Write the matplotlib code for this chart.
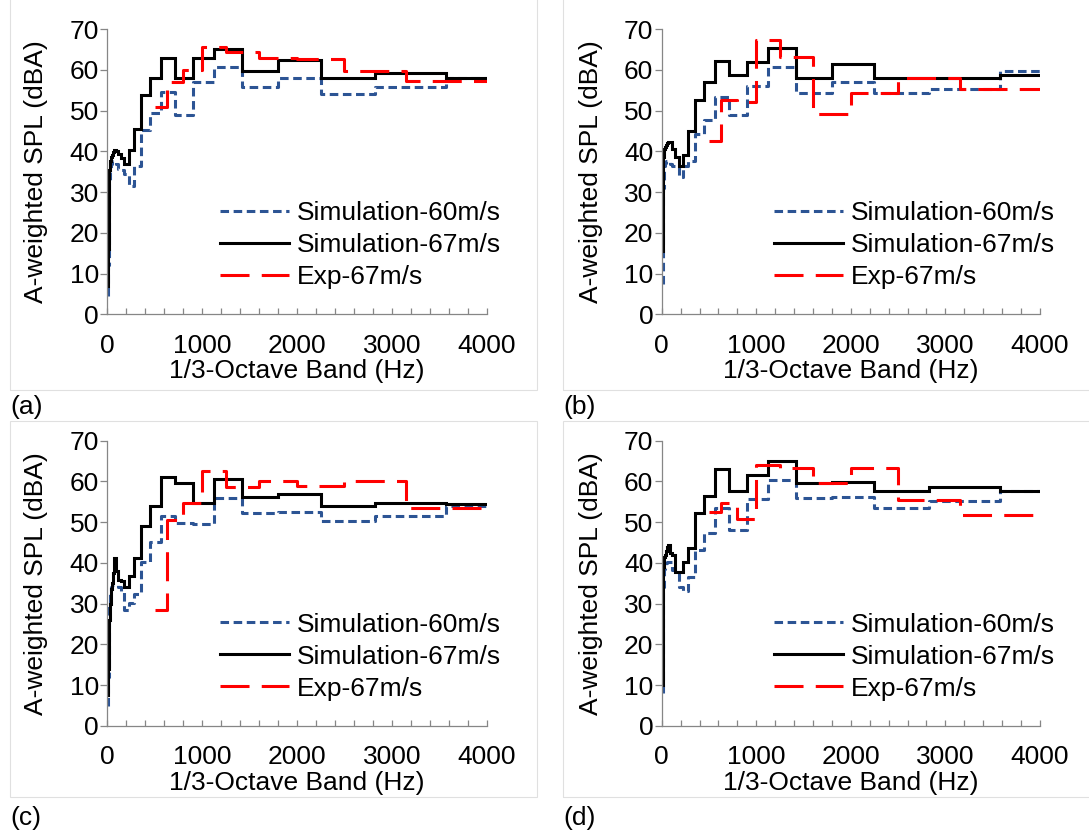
import matplotlib
matplotlib.use("Agg")
from matplotlib import pyplot as plt, ticker
from matplotlib.patches import Rectangle

plt.rcParams["font.family"] = ["Liberation Sans", "DejaVu Sans"]

# 1/3-octave band centre frequencies (Hz)
bands = [10, 12.5, 16, 20, 25, 31.5, 40, 50, 63, 80, 100, 125, 160, 200, 250,
         315, 400, 500, 630, 800, 1000, 1250, 1600, 2000, 2500, 3150, 4000]
exp_bands = [500, 630, 800, 1000, 1250, 1600, 2000, 2500, 3150, 4000]

# (a)
sim60_a = [4.5, 12, 20, 27, 32, 35, 37, 37.5, 37.5, 37.3, 37, 35.7, 35.5, 34.5, 31.6,
           36.5, 45.2, 49.5, 54.5, 48.9, 57.1, 60.8, 55.7, 57.9, 54.0, 55.7, 57.9]
sim67_a = [7, 16, 26, 32, 35.5, 37.5, 38.5, 39.2, 39.8, 40.2, 40, 39.3, 38.3, 36.9, 40.2,
           45.5, 53.9, 58.0, 63.0, 58.0, 63.0, 65.2, 59.8, 62.4, 58.1, 59.3, 57.9]
exp_a = [50.9, 57.0, 59.9, 65.6, 64.4, 62.9, 62.6, 59.7, 57.2, 57.2]

# (b)
sim60_b = [7.4, 16, 25, 31, 34.5, 36.5, 37.2, 37.5, 37.5, 37.5, 37, 36.5, 36, 33.6, 36.5,
           37.7, 44.3, 47.8, 53.3, 48.8, 55.9, 60.8, 54.2, 57.1, 54.2, 55.4, 59.7]
sim67_b = [15.5, 27, 35, 38.5, 40, 40.6, 41, 41.5, 42, 42.4, 42.4, 40.5, 38.5, 36.5, 39.0,
           45.1, 52.6, 57.1, 62.1, 58.6, 62.0, 65.3, 58.1, 61.3, 57.9, 57.9, 58.7]
exp_b = [42.6, 52.6, 52.2, 67.2, 63.2, 49.2, 54.4, 58.1, 55.2, 55.2]

# (c)
sim60_c = [5, 12, 20, 26, 30, 33, 34, 34.6, 34.6, 34.6, 34.5, 34.2, 33, 28.5, 30.2,
           32.5, 40.2, 45.1, 51.6, 49.8, 49.5, 55.9, 52.2, 52.6, 50.4, 51.4, 54.0]
sim67_c = [7.6, 14, 19, 22, 26, 30, 33.5, 35, 37.5, 41.2, 38, 35.8, 35.5, 34.2, 36.7,
           41.1, 49.0, 54.0, 61.0, 59.5, 54.8, 60.5, 56.3, 56.8, 54.0, 54.6, 54.4]
exp_c = [28.5, 50.5, 54.6, 62.5, 58.6, 60.1, 58.9, 60.1, 53.6, 53.6]

# (d)
sim60_d = [8, 20, 29, 34, 37, 38.5, 39.5, 40, 40.3, 40.3, 40.3, 38.3, 38.0, 34.2, 33.0,
           36.5, 43.2, 47.3, 53.4, 48.2, 55.8, 60.4, 55.9, 56.1, 53.4, 55.3, 57.6]
sim67_d = [10, 25, 35, 39, 41, 41.5, 42, 43, 43.8, 44.4, 42.4, 42, 37.9, 37.9, 40.3,
           43.6, 52.2, 56.4, 63.0, 57.7, 61.6, 64.9, 59.7, 59.9, 57.7, 58.7, 57.7]
exp_d = [52.6, 54.6, 50.7, 64.0, 63.2, 59.7, 63.2, 55.4, 51.8, 51.8]

FONT_SIZE = 19
AXIS_GREY = "#868686"
BLUE = "#2c5494"
RED = "#ff0000"
LW = 2.2


def plot_panel(ax, sim60, sim67, exp):
    ax.step(bands, sim60, where="mid", color=BLUE, linewidth=LW,
            linestyle=(0, (2.8, 1.5)), label="Simulation-60m/s")
    ax.step(bands, sim67, where="mid", color="black", linewidth=LW,
            solid_joinstyle="miter", label="Simulation-67m/s")
    ax.step(exp_bands, exp, where="post", color=RED, linewidth=LW,
            linestyle=(0, (9.5, 4.0)), label="Exp-67m/s")

    ax.set_xlim(0, 4000)
    ax.set_ylim(0, 70)
    ax.xaxis.set_major_locator(ticker.MultipleLocator(1000))
    ax.xaxis.set_minor_locator(ticker.MultipleLocator(200))
    ax.yaxis.set_major_locator(ticker.MultipleLocator(10))

    for side in ["top", "right"]:
        ax.spines[side].set_visible(False)
    for side in ["left", "bottom"]:
        ax.spines[side].set_color(AXIS_GREY)
        ax.spines[side].set_linewidth(0.9)

    ax.tick_params(axis="x", which="both", direction="in", length=4,
                   width=0.9, color=AXIS_GREY, labelsize=FONT_SIZE, pad=14)
    ax.tick_params(axis="y", direction="out", length=5, width=0.9,
                   color=AXIS_GREY, labelsize=FONT_SIZE, pad=1)

    ax.set_xlabel("1/3-Octave Band (Hz)", fontsize=FONT_SIZE, va="center")
    ax.xaxis.set_label_coords(0.5, -0.2)
    ax.set_ylabel("A-weighted SPL (dBA)", fontsize=FONT_SIZE, va="center")
    ax.yaxis.set_label_coords(-0.188, 0.5)

    ax.legend(loc="upper left", bbox_to_anchor=(0.297, 0.397), frameon=False,
              fontsize=FONT_SIZE, borderpad=0, borderaxespad=0,
              handlelength=2.6, handletextpad=0.3, labelspacing=0.3)


fig = plt.figure(figsize=(10.89, 8.34), dpi=100)

# light frames round each chart
frames = [(9.5, -10, 537, 390), (563, -10, 1100, 390),
          (9.5, 421, 537, 797), (563, 421, 1100, 797)]
for x0, y0, x1, y1 in frames:
    fig.patches.append(Rectangle((x0 / 1089, 1 - y1 / 834), (x1 - x0) / 1089,
                                 (y1 - y0) / 834, transform=fig.transFigure,
                                 fill=False, edgecolor="#e0e0e0", linewidth=0.8))

ax_a = fig.add_axes([0.0985, 0.6231, 0.3484, 0.3421])
ax_b = fig.add_axes([0.6076, 0.6231, 0.3474, 0.3421])
ax_c = fig.add_axes([0.0985, 0.1295, 0.3484, 0.3421])
ax_d = fig.add_axes([0.6076, 0.1295, 0.3474, 0.3421])

plot_panel(ax_a, sim60_a, sim67_a, exp_a)
plot_panel(ax_b, sim60_b, sim67_b, exp_b)
plot_panel(ax_c, sim60_c, sim67_c, exp_c)
plot_panel(ax_d, sim60_d, sim67_d, exp_d)

fig.text(10 / 1089, 1 - 407 / 834, "(a)", va="center", fontsize=FONT_SIZE)
fig.text(563 / 1089, 1 - 407 / 834, "(b)", va="center", fontsize=FONT_SIZE)
fig.text(10 / 1089, 1 - 818 / 834, "(c)", va="center", fontsize=FONT_SIZE)
fig.text(563 / 1089, 1 - 818 / 834, "(d)", va="center", fontsize=FONT_SIZE)

fig.savefig("out.png", dpi=100)
